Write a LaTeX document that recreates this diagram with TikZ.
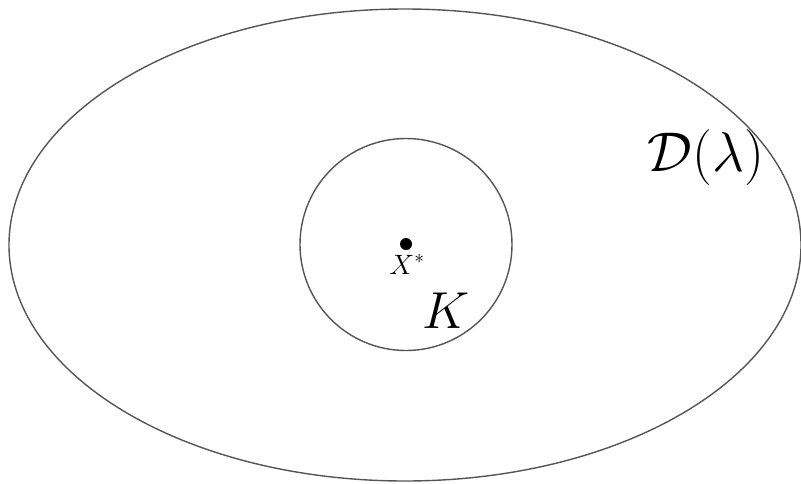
\documentclass[tikz,border=0pt]{standalone}
\usepackage{fix-cm}
\definecolor{setline}{RGB}{85,85,85}

\begin{document}
\begin{tikzpicture}[x=1pt,y=-1pt,line cap=round,line join=round,
    setedge/.style={draw=setline,line width=1.4pt},
    setlabel/.style={anchor=base,inner sep=0pt}]
    \path[use as bounding box] (0,0) rectangle (801,483);

    \draw[setedge] (405,245) ellipse[x radius=396,y radius=236];
    \draw[setedge] (406,244.5) circle[radius=106];

    \fill (406,244) circle[radius=6pt];

    \node[setlabel,font=\fontsize{28}{28}\selectfont] (xstar) at (407,274) {$X^*$};
    \node[setlabel,font=\fontsize{52}{52}\selectfont] (setK) at (446,328) {$K$};
    \node[setlabel,font=\fontsize{56}{56}\selectfont] (setD) at (706,171) {$\mathcal{D}(\lambda)$};
\end{tikzpicture}
\end{document}
